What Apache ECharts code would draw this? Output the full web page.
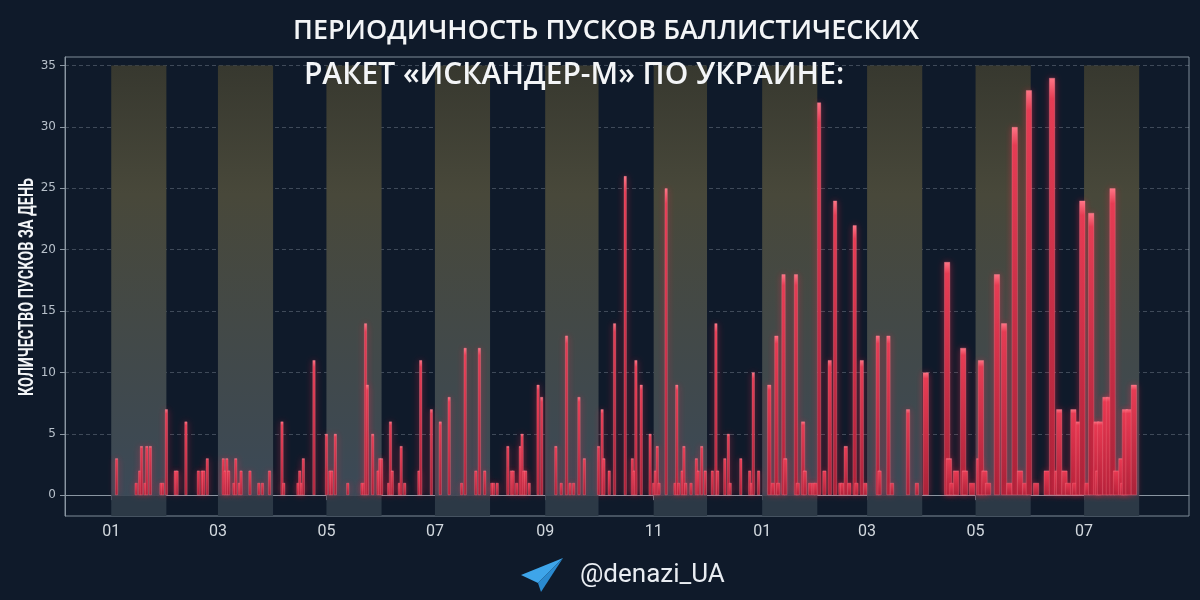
<!DOCTYPE html>
<html>
<head>
<meta charset="utf-8">
<script src="https://cdn.jsdelivr.net/npm/echarts@6/dist/echarts.min.js"></script>
<style>
  html, body { margin: 0; padding: 0; background: #0f1a2a; }
  #chart { width: 1200px; height: 600px; }
</style>
</head>
<body>
<div id="chart"></div>
<script>
// ---- Data ----
const launchDates = [
  '2024-01-04','2024-01-15','2024-01-17','2024-01-18','2024-01-20','2024-01-21','2024-01-23','2024-01-29','2024-01-30',
  '2024-02-01','2024-02-06','2024-02-07','2024-02-12','2024-02-19','2024-02-21','2024-02-22','2024-02-24',
  '2024-03-04','2024-03-05','2024-03-06','2024-03-07','2024-03-10','2024-03-11','2024-03-13','2024-03-14','2024-03-19','2024-03-24','2024-03-26','2024-03-30',
  '2024-04-06','2024-04-07','2024-04-15','2024-04-16','2024-04-17','2024-04-18','2024-04-24',
  '2024-05-01','2024-05-03','2024-05-04','2024-05-06','2024-05-13','2024-05-21','2024-05-22','2024-05-23','2024-05-24','2024-05-27','2024-05-30','2024-05-31',
  '2024-06-01','2024-06-05','2024-06-06','2024-06-07','2024-06-11','2024-06-12','2024-06-14','2024-06-22','2024-06-23','2024-06-29',
  '2024-07-04','2024-07-09','2024-07-16','2024-07-18','2024-07-24','2024-07-26','2024-07-29',
  '2024-08-02','2024-08-03','2024-08-05','2024-08-11','2024-08-13','2024-08-14','2024-08-16','2024-08-18','2024-08-19','2024-08-20','2024-08-21','2024-08-23','2024-08-28','2024-08-30',
  '2024-09-07','2024-09-10','2024-09-13','2024-09-15','2024-09-17','2024-09-20','2024-09-23',
  '2024-10-01','2024-10-03','2024-10-04','2024-10-07','2024-10-10','2024-10-16','2024-10-20','2024-10-21','2024-10-22','2024-10-25','2024-10-30',
  '2024-11-01','2024-11-02','2024-11-03','2024-11-04','2024-11-08','2024-11-13','2024-11-14','2024-11-15','2024-11-17','2024-11-18','2024-11-19','2024-11-22','2024-11-25','2024-11-26','2024-11-28','2024-11-30',
  '2024-12-04','2024-12-06','2024-12-07','2024-12-11','2024-12-13','2024-12-14','2024-12-20','2024-12-25','2024-12-26','2024-12-27','2024-12-30',
  '2025-01-05','2025-01-07','2025-01-09','2025-01-10','2025-01-13','2025-01-14','2025-01-20','2025-01-21','2025-01-24','2025-01-25','2025-01-28','2025-01-30','2025-01-31',
  '2025-02-02','2025-02-05','2025-02-08','2025-02-11','2025-02-14','2025-02-15','2025-02-17','2025-02-19','2025-02-22','2025-02-23','2025-02-26','2025-02-28',
  '2025-03-07','2025-03-08','2025-03-13','2025-03-15','2025-03-24','2025-03-29',
  '2025-04-03','2025-04-15','2025-04-16','2025-04-18','2025-04-20','2025-04-24','2025-04-25','2025-04-29',
  '2025-05-03','2025-05-04','2025-05-06','2025-05-08','2025-05-13','2025-05-17','2025-05-20','2025-05-23','2025-05-26','2025-05-29','2025-05-31',
  '2025-06-04','2025-06-10','2025-06-13','2025-06-16','2025-06-17','2025-06-20','2025-06-22','2025-06-25','2025-06-26','2025-06-28','2025-06-30',
  '2025-07-03','2025-07-05','2025-07-08','2025-07-09','2025-07-10','2025-07-13','2025-07-15','2025-07-17','2025-07-19','2025-07-22','2025-07-23','2025-07-24','2025-07-26','2025-07-29'
];
const launchCounts = [
  3,1,2,4,1,4,4,1,1,
  7,2,2,6,2,2,2,3,
  3,2,3,2,1,3,1,2,2,1,1,2,
  6,1,1,2,1,3,11,
  5,2,2,5,1,1,1,14,9,5,2,3,
  3,1,6,2,1,4,1,2,11,7,
  6,8,1,12,2,12,2,
  1,1,1,4,2,2,1,4,5,2,2,1,9,8,
  4,1,13,1,1,8,3,
  4,7,3,2,14,26,3,2,11,9,5,
  1,2,4,1,25,1,9,1,2,4,1,1,3,2,4,2,
  2,14,2,3,5,1,3,2,1,10,2,
  9,1,13,1,18,3,18,1,6,2,1,1,1,
  32,2,11,24,1,1,4,1,22,1,11,1,
  13,2,13,1,7,1,
  10,19,3,1,2,12,2,1,
  3,11,2,1,18,14,1,30,2,1,33,
  1,2,34,2,7,2,1,7,1,6,24,
  1,23,6,2,6,8,8,25,2,3,1,7,7,9
];
// month-start dates shown as axis ticks and their labels
const monthTickDates = ['2024-01-01','2024-03-01','2024-05-01','2024-07-01','2024-09-01','2024-11-01',
                        '2025-01-01','2025-03-01','2025-05-01','2025-07-01'];
const monthTickLabels = ['01','03','05','07','09','11','01','03','05','07'];
// highlighted (odd) month bands: [start, end]
const bandStarts = ['2024-01-01','2024-03-01','2024-05-01','2024-07-01','2024-09-01','2024-11-01',
                    '2025-01-01','2025-03-01','2025-05-01','2025-07-01'];
const bandEnds   = ['2024-02-01','2024-04-01','2024-06-01','2024-08-01','2024-10-01','2024-12-01',
                    '2025-02-01','2025-04-01','2025-06-01','2025-08-01'];
const yTicks = [0, 5, 10, 15, 20, 25, 30, 35];
const xMinDate = '2023-12-06';
const xMaxDate = '2025-08-29';
// bar width changes over the period
const mediumFrom = '2025-01-01';
const wideFrom = '2025-04-01';

function ts(s) { const p = s.split('-').map(Number); return new Date(p[0], p[1] - 1, p[2]).getTime(); }

const narrow = [], medium = [], wide = [];
launchDates.forEach((d, i) => {
  const t = ts(d);
  const pt = [t, launchCounts[i]];
  if (t >= ts(wideFrom)) wide.push(pt);
  else if (t >= ts(mediumFrom)) medium.push(pt);
  else narrow.push(pt);
});
const tickValues = monthTickDates.map(ts);

const chart = echarts.init(document.getElementById('chart'), null, { renderer: 'canvas' });

const bandGradient = {
  type: 'linear', x: 0, y: 0, x2: 0, y2: 1,
  colorStops: [
    { offset: 0, color: '#37382f' },
    { offset: 0.3, color: '#48483a' },
    { offset: 0.6, color: '#434947' },
    { offset: 1, color: '#3b4957' }
  ]
};
const upperBands = bandStarts.map((s, i) => [
  { xAxis: ts(s), yAxis: 0 },
  { xAxis: ts(bandEnds[i]), yAxis: 35 }
]);
const lowerBands = bandStarts.map((s, i) => [
  { xAxis: ts(s), yAxis: -1.7 },
  { xAxis: ts(bandEnds[i]), yAxis: 0 }
]);

const barColor = {
  type: 'linear', x: 0, y: 0, x2: 0, y2: 1,
  colorStops: [
    { offset: 0, color: '#ff7889' },
    { offset: 0.05, color: '#e63d55' },
    { offset: 1, color: '#a9223a' }
  ]
};
function barSeries(data, width, axisIndex) {
  return {
    type: 'bar', data: data, xAxisIndex: axisIndex, yAxisIndex: 0,
    barWidth: width, z: 5, silent: true,
    itemStyle: {
      color: barColor,
      borderColor: 'rgba(255,140,155,0.5)', borderWidth: 0.6,
      shadowBlur: 7, shadowColor: 'rgba(240,45,75,0.5)'
    }
  };
}

function xAxisDef(visible) {
  return {
    type: 'value', min: ts(xMinDate), max: ts(xMaxDate), show: visible,
    splitLine: { show: false },
    axisLine: { show: true, lineStyle: { color: '#8a96a2', width: 1 } },
    axisTick: { show: true, customValues: tickValues, length: 5, lineStyle: { color: '#8a96a2' } },
    axisLabel: {
      show: true, customValues: tickValues,
      formatter: function (v) {
        const idx = tickValues.indexOf(v);
        return idx >= 0 ? monthTickLabels[idx] : '';
      },
      color: '#d3d9df', fontSize: 16, fontFamily: 'Roboto, sans-serif',
      margin: 8
    }
  };
}

const option = {
  backgroundColor: '#0f1a2a',
  animation: false,
  grid: { left: 65, right: 11, top: 57, bottom: 84, show: true, borderColor: '#7f8b97', borderWidth: 1, backgroundColor: 'transparent' },
  xAxis: [xAxisDef(true), xAxisDef(false), xAxisDef(false)],
  yAxis: {
    type: 'value', min: -1.7, max: 35.7,
    axisLine: { show: true, lineStyle: { color: '#8a96a2' } },
    axisTick: { show: true, customValues: yTicks, length: 5, lineStyle: { color: '#8a96a2' } },
    axisLabel: { customValues: yTicks, color: '#b7c0ca', fontSize: 12, fontFamily: '"DejaVu Sans", sans-serif', margin: 9 },
    splitLine: { show: true, lineStyle: { color: 'rgba(190,200,212,0.28)', type: [4, 3], width: 1 } }
  },
  series: [
    {
      type: 'line', data: [], xAxisIndex: 0, z: 1, silent: true,
      markArea: { silent: true, itemStyle: { color: bandGradient }, data: upperBands }
    },
    {
      type: 'line', data: [], xAxisIndex: 0, z: 1, silent: true,
      markArea: { silent: true, itemStyle: { color: '#2c3946' }, data: lowerBands }
    },
    barSeries(narrow, 3, 0),
    barSeries(medium, 4, 1),
    barSeries(wide, 6, 2)
  ],
  graphic: [
    { type: 'text', x: 606, y: 31, z: 100,
      style: { text: 'ПЕРИОДИЧНОСТЬ ПУСКОВ БАЛЛИСТИЧЕСКИХ', fill: '#f3f5f7', font: '600 27px "Open Sans", "Noto Sans", sans-serif',
               align: 'center', verticalAlign: 'middle', textAlign: 'center', textVerticalAlign: 'middle' } },
    { type: 'text', x: 574, y: 75, z: 100,
      style: { text: 'РАКЕТ «ИСКАНДЕР-М» ПО УКРАИНЕ:', fill: '#f3f5f7', font: '600 30px "Open Sans", "Noto Sans", sans-serif',
               align: 'center', verticalAlign: 'middle', textAlign: 'center', textVerticalAlign: 'middle' } },
    { type: 'text', x: 28, y: 287, rotation: Math.PI / 2, scaleX: 0.72, z: 100,
      style: { text: 'КОЛИЧЕСТВО ПУСКОВ ЗА ДЕНЬ', fill: '#f3f5f7', font: 'bold 20px Roboto, "DejaVu Sans", sans-serif',
               align: 'center', verticalAlign: 'middle', textAlign: 'center', textVerticalAlign: 'middle' } },
    { type: 'polygon', z: 100, shape: { points: [[521, 575], [563, 558], [538, 583]] }, style: { fill: '#3ea5ea' } },
    { type: 'polygon', z: 100, shape: { points: [[538, 583], [563, 558], [541, 592]] }, style: { fill: '#2a8ad0' } },
    { type: 'text', x: 580, y: 575, z: 100,
      style: { text: '@denazi_UA', fill: '#e9edf2', font: '26px Roboto, "Noto Sans", sans-serif',
               verticalAlign: 'middle', textVerticalAlign: 'middle' } }
  ]
};
chart.setOption(option);
</script>
</body>
</html>
